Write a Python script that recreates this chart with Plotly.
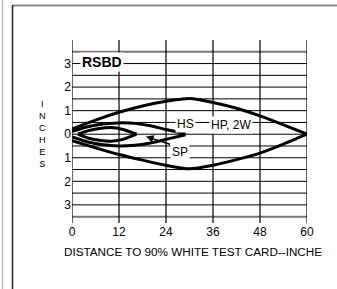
import plotly.graph_objects as go
import numpy as np

# ---- data ----
outer_x = [0, 6, 12, 18, 24, 30, 36, 42, 48, 54, 60]
outer_upper = [0.22, 0.6, 0.93, 1.2, 1.4, 1.52, 1.35, 1.1, 0.78, 0.4, 0.0]
outer_lower = [-0.28, -0.58, -0.86, -1.1, -1.32, -1.47, -1.32, -1.08, -0.8, -0.42, 0.0]

hs_x = [0, 4, 8, 12, 16, 20, 24, 29]
hs_upper = [0.12, 0.32, 0.43, 0.48, 0.46, 0.36, 0.2, 0.02]
hs_lower = [-0.12, -0.33, -0.45, -0.5, -0.47, -0.37, -0.22, -0.02]

sp_x = [1.5, 4, 7, 10, 13, 16.5]
sp_upper = [0.0, 0.14, 0.24, 0.28, 0.2, 0.0]
sp_lower = [0.0, -0.16, -0.26, -0.3, -0.22, 0.0]

x_ticks = [0, 12, 24, 36, 48, 60]
y_ticks = [3, 2, 1, 0, -1, -2, -3]
y_tick_labels = ["3", "2", "1", "0", "1", "2", "3"]
y_title_letters = ["I", "N", "C", "H", "E", "S"]

FONT = "Liberation Sans, Arial, Helvetica, sans-serif"

fig = go.Figure()

for xs, up, lo in [(outer_x, outer_upper, outer_lower), (hs_x, hs_upper, hs_lower), (sp_x, sp_upper, sp_lower)]:
    for ys in (up, lo):
        fig.add_trace(go.Scatter(x=xs, y=ys, mode="lines",
                                 line=dict(color="black", width=3, shape="spline", smoothing=0.6),
                                 hoverinfo="skip", showlegend=False))

shapes = []
grid_y = np.arange(-3.0, 3.01, 0.5)
for gy in grid_y:
    shapes.append(dict(type="line", xref="x", yref="y", x0=0, x1=60, y0=gy, y1=gy,
                       line=dict(color="black", width=1), layer="below"))
for gy in (-3.5, 3.5):
    shapes.append(dict(type="line", xref="x", yref="y", x0=0, x1=60, y0=gy, y1=gy,
                       line=dict(color="#777777", width=2), layer="below"))
for gx in x_ticks:
    shapes.append(dict(type="line", xref="x", yref="y", x0=gx, x1=gx, y0=-3.77, y1=4.0,
                       line=dict(color="black", width=1.2), layer="below"))

# page frame
W, H = 337, 289
L, R, T, B = 72, 30, 40, 66
pw, ph = W - L - R, H - T - B
def px(xp): return (xp - L) / pw
def py(yp): return (H - B - yp) / ph
shapes.append(dict(type="line", xref="paper", yref="paper", x0=px(12.5), x1=px(337), y0=py(5.5), y1=py(5.5),
                   line=dict(color="#888888", width=2)))
shapes.append(dict(type="line", xref="paper", yref="paper", x0=px(12.5), x1=px(12.5), y0=py(5), y1=py(289),
                   line=dict(color="#222222", width=1.5)))
shapes.append(dict(type="line", xref="paper", yref="paper", x0=px(2.5), x1=px(2.5), y0=py(0), y1=py(289),
                   line=dict(color="#bbbbbb", width=1.5)))

annotations = [
    dict(x=7.7, y=3.08, xref="x", yref="y", text="<b>RSBD</b>", showarrow=False, bgcolor="white",
         font=dict(family=FONT, size=14, color="black"), borderpad=1),
    dict(x=28.9, y=0.45, xref="x", yref="y", text="HS", showarrow=False, bgcolor="white",
         font=dict(family=FONT, size=12, color="black"), borderpad=1),
    dict(x=40.6, y=0.38, xref="x", yref="y", text="HP, 2W", showarrow=False, bgcolor="white",
         font=dict(family=FONT, size=12, color="black"), borderpad=1),
    dict(x=27.6, y=-0.74, xref="x", yref="y", text="SP", showarrow=False, bgcolor="white",
         font=dict(family=FONT, size=12, color="black"), borderpad=1),
    dict(x=18.9, y=-0.1, xref="x", yref="y", ax=25.4, ay=-0.45, axref="x", ayref="y", text="",
         showarrow=True, arrowhead=2, arrowsize=1, arrowwidth=1.5, arrowcolor="black"),
    dict(x=px(192.5), y=py(251), xref="paper", yref="paper", xanchor="center", yanchor="middle",
         text="DISTANCE TO 90% WHITE TEST CARD--INCHE",
         showarrow=False, font=dict(family=FONT, size=11.7, color="black")),
    dict(x=px(42), y=py(133.5), xref="paper", yref="paper", xanchor="center", yanchor="middle",
         text="<br>".join(y_title_letters), showarrow=False, borderpad=0,
         font=dict(family=FONT, size=9.2, color="black")),
]

fig.update_layout(
    width=W, height=H,
    margin=dict(l=L, r=R, t=T, b=B),
    paper_bgcolor="white", plot_bgcolor="white",
    shapes=shapes, annotations=annotations,
    xaxis=dict(range=[0, 60], tickvals=x_ticks, showgrid=False, zeroline=False, showline=False,
               ticks="", tickfont=dict(family=FONT, size=12, color="black")),
    yaxis=dict(range=[-3.77, 4.0], tickvals=y_ticks, ticktext=y_tick_labels, showgrid=False, zeroline=False,
               showline=False, ticks="", tickfont=dict(family=FONT, size=12, color="black")),
    showlegend=False,
)

fig.write_html("out.html", config={"displayModeBar": False},
               post_script="document.body.style.margin='0px';document.body.style.padding='0px';")
